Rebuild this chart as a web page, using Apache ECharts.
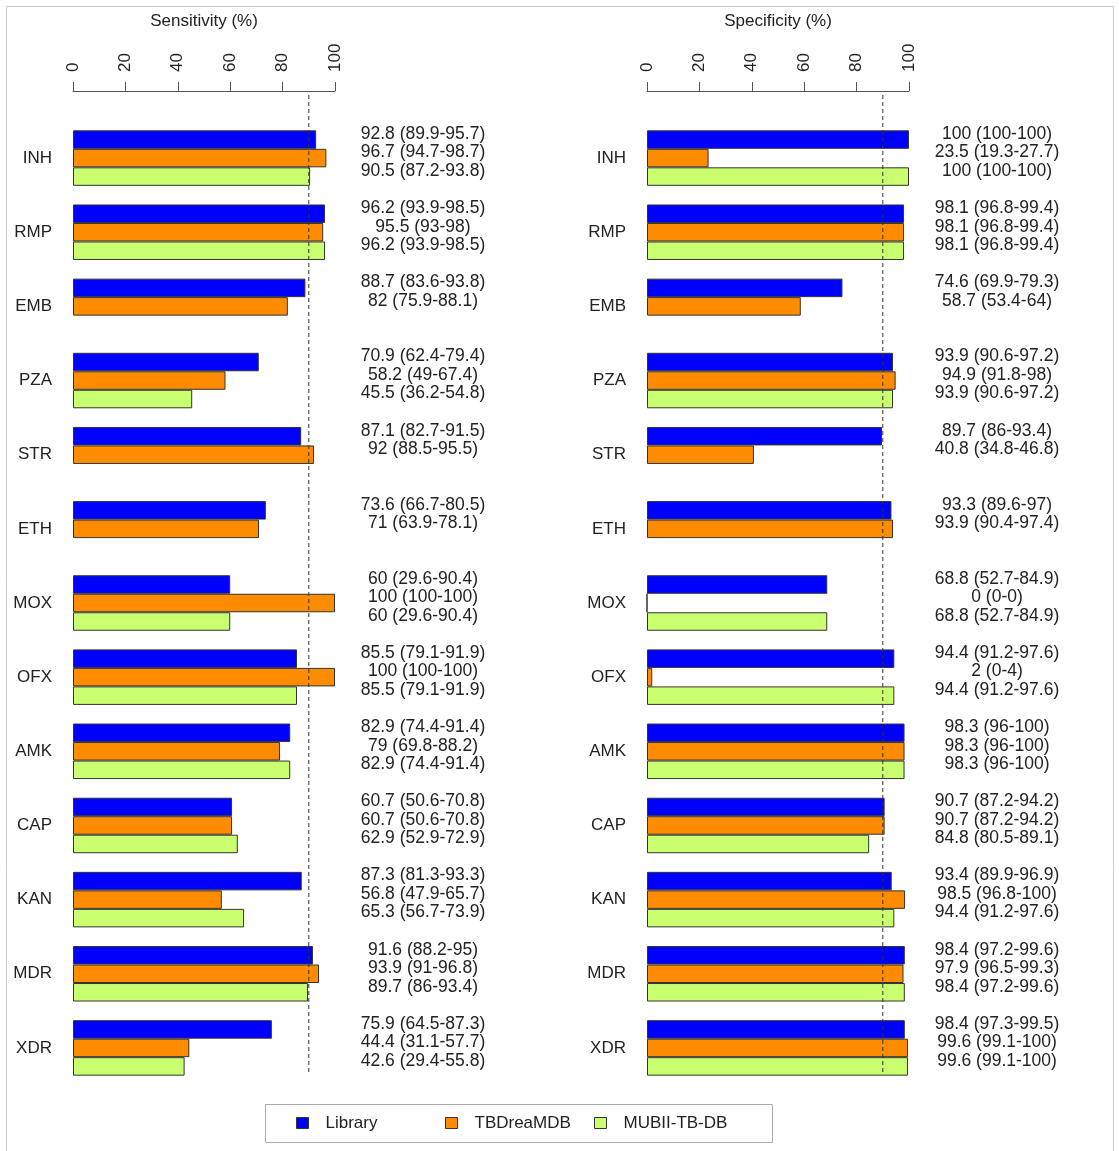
<!DOCTYPE html>
<html><head><meta charset="utf-8">
<script src="https://cdn.jsdelivr.net/npm/echarts@6/dist/echarts.min.js"></script>
<style>html,body{margin:0;padding:0;background:#fff}#c{width:1119px;height:1151px}</style>
</head><body><div id="c"></div>
<script>
const categories = ['INH','RMP','EMB','PZA','STR','ETH','MOX','OFX','AMK','CAP','KAN','MDR','XDR'];
const seriesNames = ['Library','TBDreaMDB','MUBII-TB-DB'];
const xTicks = [0, 20, 40, 60, 80, 100];
const threshold = 90;

// Sensitivity (%) : value, lower CI, upper CI
const sensLibrary   = [92.8, 96.2, 88.7, 70.9, 87.1, 73.6, 60, 85.5, 82.9, 60.7, 87.3, 91.6, 75.9];
const sensLibraryLo = [89.9, 93.9, 83.6, 62.4, 82.7, 66.7, 29.6, 79.1, 74.4, 50.6, 81.3, 88.2, 64.5];
const sensLibraryHi = [95.7, 98.5, 93.8, 79.4, 91.5, 80.5, 90.4, 91.9, 91.4, 70.8, 93.3, 95, 87.3];
const sensTBDream   = [96.7, 95.5, 82, 58.2, 92, 71, 100, 100, 79, 60.7, 56.8, 93.9, 44.4];
const sensTBDreamLo = [94.7, 93, 75.9, 49, 88.5, 63.9, 100, 100, 69.8, 50.6, 47.9, 91, 31.1];
const sensTBDreamHi = [98.7, 98, 88.1, 67.4, 95.5, 78.1, 100, 100, 88.2, 70.8, 65.7, 96.8, 57.7];
const sensMubii     = [90.5, 96.2, null, 45.5, null, null, 60, 85.5, 82.9, 62.9, 65.3, 89.7, 42.6];
const sensMubiiLo   = [87.2, 93.9, null, 36.2, null, null, 29.6, 79.1, 74.4, 52.9, 56.7, 86, 29.4];
const sensMubiiHi   = [93.8, 98.5, null, 54.8, null, null, 90.4, 91.9, 91.4, 72.9, 73.9, 93.4, 55.8];

// Specificity (%) : value, lower CI, upper CI
const specLibrary   = [100, 98.1, 74.6, 93.9, 89.7, 93.3, 68.8, 94.4, 98.3, 90.7, 93.4, 98.4, 98.4];
const specLibraryLo = [100, 96.8, 69.9, 90.6, 86, 89.6, 52.7, 91.2, 96, 87.2, 89.9, 97.2, 97.3];
const specLibraryHi = [100, 99.4, 79.3, 97.2, 93.4, 97, 84.9, 97.6, 100, 94.2, 96.9, 99.6, 99.5];
const specTBDream   = [23.5, 98.1, 58.7, 94.9, 40.8, 93.9, 0, 2, 98.3, 90.7, 98.5, 97.9, 99.6];
const specTBDreamLo = [19.3, 96.8, 53.4, 91.8, 34.8, 90.4, 0, 0, 96, 87.2, 96.8, 96.5, 99.1];
const specTBDreamHi = [27.7, 99.4, 64, 98, 46.8, 97.4, 0, 4, 100, 94.2, 100, 99.3, 100];
const specMubii     = [100, 98.1, null, 93.9, null, null, 68.8, 94.4, 98.3, 84.8, 94.4, 98.4, 99.6];
const specMubiiLo   = [100, 96.8, null, 90.6, null, null, 52.7, 91.2, 96, 80.5, 91.2, 97.2, 99.1];
const specMubiiHi   = [100, 99.4, null, 97.2, null, null, 84.9, 97.6, 100, 89.1, 97.6, 99.6, 100];

const colors = ['#0000FF', '#FF8C00', '#CAFF70'];
const FONT = 'Liberation Sans, Arial, sans-serif';
const TXT = '#222';

const panels = [
  { title: 'Sensitivity (%)', left: 73,
    vals: [sensLibrary, sensTBDream, sensMubii],
    lo: [sensLibraryLo, sensTBDreamLo, sensMubiiLo],
    hi: [sensLibraryHi, sensTBDreamHi, sensMubiiHi] },
  { title: 'Specificity (%)', left: 647,
    vals: [specLibrary, specTBDream, specMubii],
    lo: [specLibraryLo, specTBDreamLo, specMubiiLo],
    hi: [specLibraryHi, specTBDreamHi, specMubiiHi] }
];

const GRID_W = 262, GRID_TOP = 121, GRID_H = 964;
const grid = [], xAxis = [], yAxis = [], series = [];

panels.forEach((p, pi) => {
  grid.push({ left: p.left, width: GRID_W, top: GRID_TOP, height: GRID_H });
  xAxis.push({
    gridIndex: pi, type: 'value', position: 'top', min: xTicks[0], max: xTicks[xTicks.length - 1],
    interval: xTicks[1] - xTicks[0], offset: 30,
    name: p.title, nameLocation: 'middle', nameGap: 61,
    nameTextStyle: { fontFamily: FONT, fontSize: 17, color: TXT },
    axisLine: { show: true, lineStyle: { color: '#555', width: 1 } },
    axisTick: { show: true, length: 9, lineStyle: { color: '#555' } },
    axisLabel: { rotate: -90, margin: 19, fontFamily: FONT, fontSize: 17, color: TXT },
    splitLine: { show: false }
  });
  yAxis.push({
    gridIndex: pi, type: 'category', data: categories, inverse: true,
    axisLine: { show: false }, axisTick: { show: false },
    axisLabel: { margin: 21, fontFamily: FONT, fontSize: 17, color: TXT }
  });
  p.vals.forEach((v, si) => {
    series.push({
      name: seriesNames[si], type: 'bar', xAxisIndex: pi, yAxisIndex: pi,
      data: v, barWidth: 18.5, barGap: '0%',
      itemStyle: { color: colors[si], borderColor: '#333', borderWidth: 1 },
      emphasis: { disabled: true }, animation: false
    });
  });
});

// Text axes (right side of each panel) with value + CI
panels.forEach((p, pi) => {
  yAxis.push({
    gridIndex: pi, type: 'category', data: categories, inverse: true, position: 'right',
    axisLine: { show: false }, axisTick: { show: false },
    axisLabel: {
      margin: 88, align: 'center', fontFamily: FONT, fontSize: 17.5, color: TXT,
      lineHeight: 18.5,
      rich: { s: { fontSize: 1, lineHeight: 11 } },
      formatter: (val, idx) => p.vals.map((arr, si) => {
        const v = arr[idx];
        if (v === null || v === undefined) return ' ';
        return v + ' (' + p.lo[si][idx] + '-' + p.hi[si][idx] + ')';
      }).join('\n') + '\n{s| }'
    }
  });
});

// Dashed threshold line grids
panels.forEach((p, pi) => {
  const gi = grid.length;
  grid.push({ left: p.left, width: GRID_W, top: 94, height: 978 });
  xAxis.push({ gridIndex: gi, type: 'value', min: xTicks[0], max: xTicks[xTicks.length - 1], show: false });
  const yi = yAxis.length;
  yAxis.push({ gridIndex: gi, type: 'value', min: 0, max: 1, show: false });
  series.push({
    type: 'line', xAxisIndex: xAxis.length - 1, yAxisIndex: yi,
    data: [[threshold, 0], [threshold, 1]], symbol: 'none', silent: true, animation: false,
    lineStyle: { color: '#333', width: 1, type: [4, 3] }
  });
});

const legendLefts = [296, 445, 594];
const legend = seriesNames.map((n, i) => ({
  data: [n], left: legendLefts[i], top: 1113, padding: 0, orient: 'horizontal',
  icon: 'rect', itemWidth: 12, itemHeight: 11,
  itemStyle: { borderColor: '#333', borderWidth: 1 },
  textStyle: { fontFamily: FONT, fontSize: 17, color: TXT, lineHeight: 20, padding: [0, 0, 0, 12] },
  selectedMode: false
}));

const chart = echarts.init(document.getElementById('c'), null, { renderer: 'canvas' });
chart.setOption({
  backgroundColor: '#fff',
  animation: false,
  textStyle: { fontFamily: FONT },
  grid, xAxis, yAxis, series, legend,
  graphic: [
    { type: 'rect', shape: { x: 6.5, y: 6.5, width: 1107, height: 1150 }, style: { fill: 'none', stroke: '#c8c8c8', lineWidth: 1 }, silent: true },
    { type: 'rect', shape: { x: 265.5, y: 1104.5, width: 507, height: 38 }, style: { fill: 'none', stroke: '#aaa', lineWidth: 1 }, silent: true }
  ]
});
</script></body></html>
